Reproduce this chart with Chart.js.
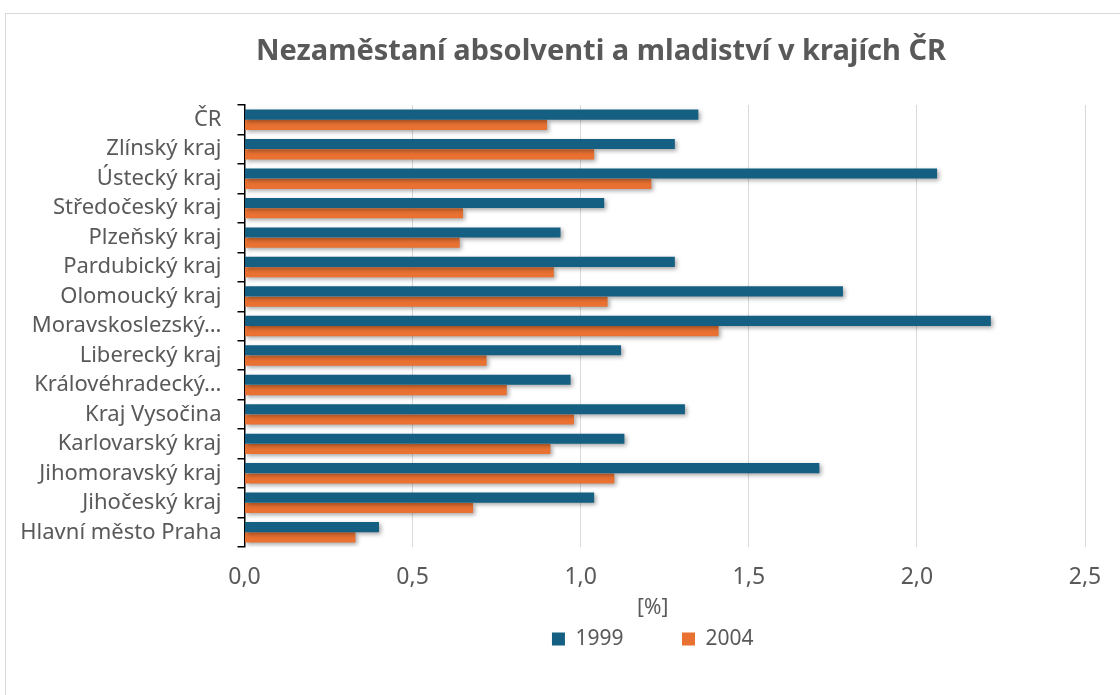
<!DOCTYPE html>
<html lang="cs">
<head>
<meta charset="utf-8">
<script src="https://cdn.jsdelivr.net/npm/chart.js@4"></script>
<style>
  body { margin: 0; background: #fff; }
  #frame { position: absolute; left: 5px; top: 13px; width: 1300px; height: 900px; border: 1px solid #d9d9d9; }
  #wrap { position: absolute; left: 0; top: 0; width: 1120px; height: 695px; }
</style>
</head>
<body>
<div id="frame"></div>
<div id="wrap"><canvas id="chart" width="1120" height="695"></canvas></div>
<script>
const categories = ["ČR", "Zlínský kraj", "Ústecký kraj", "Středočeský kraj", "Plzeňský kraj",
  "Pardubický kraj", "Olomoucký kraj", "Moravskoslezský kraj", "Liberecký kraj",
  "Královéhradecký kraj", "Kraj Vysočina", "Karlovarský kraj", "Jihomoravský kraj",
  "Jihočeský kraj", "Hlavní město Praha"];
const v1999 = [1.35, 1.28, 2.06, 1.07, 0.94, 1.28, 1.78, 2.22, 1.12, 0.97, 1.31, 1.13, 1.71, 1.04, 0.40];
const v2004 = [0.90, 1.04, 1.21, 0.65, 0.64, 0.92, 1.08, 1.41, 0.72, 0.78, 0.98, 0.91, 1.10, 0.68, 0.33];
const seriesNames = ["1999", "2004"];
const xTicks = [0, 0.5, 1, 1.5, 2, 2.5];

const grey = "#595959";
const font = "Noto Sans";

// bar drop shadow like the office chart
const shadow = {
  id: "shadow",
  beforeDatasetsDraw(chart) {
    const ctx = chart.ctx;
    ctx.save();
    ctx.shadowColor = "rgba(0,0,0,0.35)";
    ctx.shadowBlur = 4;
    ctx.shadowOffsetX = 2;
    ctx.shadowOffsetY = 2;
  },
  afterDatasetsDraw(chart) {
    chart.ctx.restore();
  }
};

// title is centred on the whole frame, legend a bit left of the plot centre
const nudge = {
  id: "nudge",
  afterLayout(chart) {
    chart.titleBlock.left += 56;
    chart.titleBlock.right += 56;
    chart.legend.left -= 12;
    chart.legend.right -= 12;
  }
};

new Chart(document.getElementById("chart"), {
  type: "bar",
  data: {
    labels: categories,
    datasets: [
      { label: seriesNames[0], data: v1999, backgroundColor: "#156082" },
      { label: seriesNames[1], data: v2004, backgroundColor: "#E97132" }
    ]
  },
  options: {
    indexAxis: "y",
    responsive: false,
    animation: false,
    layout: { padding: { left: 5, right: 35, top: 0, bottom: 35.4 } },
    datasets: { bar: { categoryPercentage: 0.7, barPercentage: 0.98 } },
    scales: {
      x: {
        min: 0,
        max: 2.5,
        afterBuildTicks(scale) {
          scale.ticks = xTicks.map(v => ({ value: v }));
        },
        afterFit(scale) { scale.height = 44.5; },
        grid: { color: "#d9d9d9", lineWidth: 1, drawTicks: false },
        border: { display: false },
        ticks: {
          padding: 16.9,
          color: grey,
          font: { family: font, size: 23 },
          callback: v => v.toFixed(1).replace(".", ",")
        }
      },
      y: {
        afterFit(scale) { scale.width = 244.5 - 5; },
        grid: { drawOnChartArea: false, drawTicks: true, tickLength: 7, color: "#000", lineWidth: 1.5 },
        border: { display: true, color: "#000", width: 1.5 },
        ticks: {
          padding: 16,
          color: grey,
          font: { family: font, size: 22 },
          callback(value) {
            const s = this.getLabelForValue(value);
            return s.length > 18 ? s.slice(0, s.lastIndexOf(" ")) + "…" : s;
          }
        }
      }
    },
    plugins: {
      title: {
        display: true,
        text: "Nezaměstaní absolventi a mladiství v krajích ČR",
        color: grey,
        font: { family: font, size: 29, weight: "bold" },
        padding: { top: 34.6, bottom: 35.6 }
      },
      legend: {
        position: "bottom",
        fullSize: false,
        title: {
          display: true,
          text: "[%]",
          color: grey,
          font: { family: font, size: 21 },
          padding: { top: 5.9, bottom: 0 }
        },
        labels: {
          boxWidth: 13,
          boxHeight: 13,
          padding: 6,
          color: grey,
          font: { family: font, size: 21 },
          generateLabels(chart) {
            const items = Chart.defaults.plugins.legend.labels.generateLabels(chart);
            items[0].text += "\u2003\u2003\u2002";
            items.forEach(it => { it.lineWidth = 0; });
            return items;
          }
        }
      },
      tooltip: { enabled: false }
    }
  },
  plugins: [shadow, nudge]
});
</script>
</body>
</html>
